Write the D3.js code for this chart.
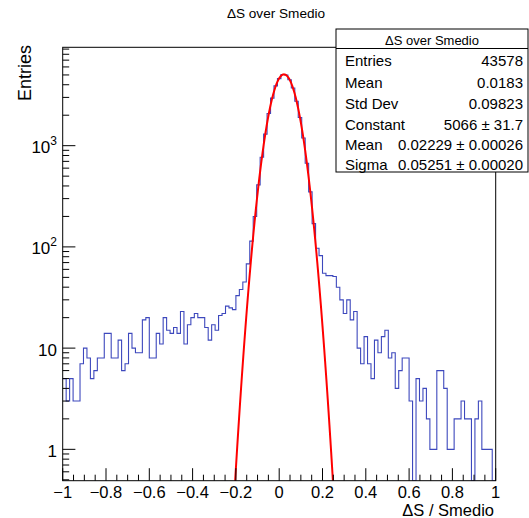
<!DOCTYPE html>
<html><head><meta charset="utf-8">
<script src="https://cdn.jsdelivr.net/npm/d3@7"></script>
<style>body{margin:0;background:#fff}svg{display:block;font-family:"Liberation Sans",Arial,Helvetica,sans-serif}</style>
</head><body><svg id="c" width="529" height="518"></svg>
<script>
// ---- data ----
const xRange = [-1, 1];
const counts = [
  5,3,5,3,3,7,10,8,5,6, 8,8,14,14,8,8,12,6,7,14,
  10,9,9,19,20,8,8,14,11,20, 15,14,16,14,23,11,17,20,22,20,
  20,16,12,17,15,21,22,26,25,24, 33,38,45,68,114,200,410,770,1300,2080,
  2950,3900,4600,5050,4990,4480,3720,2750,1900,1190, 670,350,170,97,82,55,52,52,51,40,
  30,22,30,19,23,10,7,13,7,5, 12,9,13,15,8,9,4,6,8,8,
  3,0,5,3,4,2,1,1,6,6, 4,1,1,2,2,3,2,2,0,2,
  3,1,1,1,0
];
const xTicks = [-1,-0.8,-0.6,-0.4,-0.2,0,0.2,0.4,0.6,0.8,1];
const xTickLabels = ["\u22121","\u22120.8","\u22120.6","\u22120.4","\u22120.2","0","0.2","0.4","0.6","0.8","1"];
const yTicks = [1,10,100,1000];
const yTickBase = ["1","10","10","10"];
const yTickExp = ["","","2","3"];
const title = "\u0394S over Smedio";
const xTitle = "\u0394S / Smedio";
const yTitle = "Entries";
const statsLabels = ["Entries","Mean","Std Dev","Constant","Mean","Sigma"];
const statsValues = ["43578","0.0183","0.09823","5066 \u00b1 31.7","0.02229 \u00b1 0.00026","0.05251 \u00b1 0.00020"];
const fitConstant = 5066, fitMean = 0.02229, fitSigma = 0.05251;

// ---- layout ----
const L = 62.7, R = 495.7, T = 47.3, B = 480.7;
const yMin = 0.49, yMax = 9376;
const svg = d3.select("#c");
const x = d3.scaleLinear().domain(xRange).range([L, R]);
const y = d3.scaleLog().domain([yMin, yMax]).range([B, T]);

svg.append("rect").attr("width",529).attr("height",518).attr("fill","#fff");
svg.append("clipPath").attr("id","fr").append("rect")
  .attr("x",L).attr("y",T).attr("width",R-L).attr("height",B-T);

// histogram step line
const nb = counts.length, bw = (xRange[1]-xRange[0])/nb;
const pts = [];
counts.forEach((c,i)=>{
  const v = c > 0 ? c : yMin;
  pts.push([x(xRange[0]+i*bw), y(v)]);
  pts.push([x(xRange[0]+(i+1)*bw), y(v)]);
});
svg.append("path").attr("d", d3.line()(pts)).attr("fill","none")
  .attr("stroke","#3d48bd").attr("stroke-width",1.1).attr("clip-path","url(#fr)");

// fit curve
const fx = d3.range(-1, 1.0001, 0.002);
const fitLine = d3.line()
  .defined(d => d[1] > 1e-6)
  .x(d => x(d[0])).y(d => y(d[1]));
const fitPts = fx.map(v => [v, fitConstant*Math.exp(-0.5*Math.pow((v-fitMean)/fitSigma,2))]);
svg.append("path").attr("d", fitLine(fitPts)).attr("fill","none")
  .attr("stroke","#ff0000").attr("stroke-width",2).attr("clip-path","url(#fr)");

// frame
svg.append("rect").attr("x",L).attr("y",T).attr("width",R-L).attr("height",B-T)
  .attr("fill","none").attr("stroke","#000").attr("stroke-width",1);

// x ticks
const xMinor = d3.range(-1, 1.0001, 0.05);
svg.append("g").selectAll("line").data(xMinor).join("line")
  .attr("x1",d=>x(d)).attr("x2",d=>x(d))
  .attr("y1",B).attr("y2",(d,i)=> i%4===0 ? B-12.5 : B-6)
  .attr("stroke","#000").attr("stroke-width",1);
svg.append("g").selectAll("text").data(xTicks).join("text")
  .attr("x",d=>x(d)).attr("y",497.5).attr("text-anchor","middle")
  .attr("font-size",16.5).text((d,i)=>xTickLabels[i]);

// y ticks
const yMinor = [];
for (let k=-1;k<=3;k++) for (let m=1;m<=9;m++){ const v=m*Math.pow(10,k); if(v>=yMin&&v<=yMax) yMinor.push([v,m===1]); }
svg.append("g").selectAll("line").data(yMinor).join("line")
  .attr("x1",L).attr("x2",d=> d[1] ? L+12.7 : L+6.5)
  .attr("y1",d=>y(d[0])).attr("y2",d=>y(d[0]))
  .attr("stroke","#000").attr("stroke-width",1);
const yt = svg.append("g").selectAll("text").data(yTicks).join("text")
  .attr("x",57).attr("y",d=>y(d)+7.5).attr("text-anchor","end").attr("font-size",17);
yt.append("tspan").text((d,i)=>yTickBase[i]);
yt.append("tspan").attr("font-size",12).attr("dy",-8).text((d,i)=>yTickExp[i]);

// titles
svg.append("text").attr("x",276).attr("y",18).attr("text-anchor","middle")
  .attr("font-size",13.6).text(title);
svg.append("text").attr("x",494).attr("y",516).attr("text-anchor","end")
  .attr("font-size",16.5).text(xTitle);
svg.append("text").attr("transform","translate(30.5,45) rotate(-90)")
  .attr("text-anchor","end").attr("font-size",18).text(yTitle);

// stats box
const bx = 336, by = 29, bW = 192, bH = 143;
svg.append("rect").attr("x",bx).attr("y",by).attr("width",bW).attr("height",bH)
  .attr("fill","#fff").attr("stroke","#000").attr("stroke-width",1);
svg.append("line").attr("x1",bx).attr("x2",bx+bW).attr("y1",48.5).attr("y2",48.5)
  .attr("stroke","#000").attr("stroke-width",1);
svg.append("text").attr("x",bx+bW/2).attr("y",45).attr("text-anchor","middle")
  .attr("font-size",13).text(title);
const rowY = [66, 87.5, 108.5, 129.5, 150, 170];
statsLabels.forEach((s,i)=>{
  svg.append("text").attr("x",345).attr("y",rowY[i]).attr("font-size",15).text(s);
  svg.append("text").attr("x",523).attr("y",rowY[i]).attr("text-anchor","end")
    .attr("font-size",15).text(statsValues[i]);
});
</script></body></html>
